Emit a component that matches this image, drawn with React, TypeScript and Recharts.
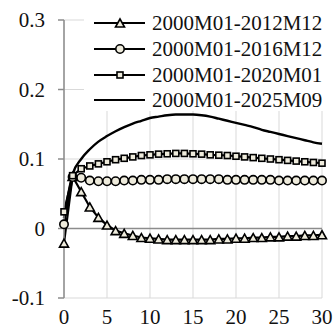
import React from 'react';
import { LineChart, Line, XAxis, YAxis, CartesianGrid, ReferenceLine } from 'recharts';

// Response horizon (months)
const horizons = [
  0, 1, 2, 3, 4, 5, 6, 7, 8, 9, 10, 11, 12, 13, 14, 15,
  16, 17, 18, 19, 20, 21, 22, 23, 24, 25, 26, 27, 28, 29, 30,
];

// Impulse responses by estimation sample
const sample2012 = [
  -0.021, 0.075, 0.053, 0.031, 0.016, 0.005, -0.003, -0.007, -0.010, -0.013, -0.014,
  -0.015, -0.016, -0.016, -0.016, -0.016, -0.016, -0.016, -0.015, -0.015, -0.014,
  -0.014, -0.013, -0.013, -0.012, -0.012, -0.011, -0.011, -0.010, -0.010, -0.009,
];
const sample2016 = [
  0.006, 0.074, 0.073, 0.069, 0.068, 0.068, 0.068, 0.069, 0.069, 0.070, 0.070,
  0.070, 0.071, 0.071, 0.071, 0.071, 0.071, 0.071, 0.071, 0.070, 0.070,
  0.070, 0.070, 0.070, 0.070, 0.069, 0.069, 0.069, 0.069, 0.069, 0.069,
];
const sample2020 = [
  0.024, 0.076, 0.086, 0.090, 0.093, 0.096, 0.099, 0.101, 0.103, 0.105, 0.106,
  0.107, 0.1075, 0.108, 0.108, 0.1075, 0.107, 0.106, 0.1055, 0.105, 0.104,
  0.103, 0.102, 0.101, 0.100, 0.099, 0.098, 0.097, 0.096, 0.095, 0.094,
];
const sample2025 = [
  0.015, 0.078, 0.100, 0.114, 0.125, 0.133, 0.140, 0.146, 0.151, 0.155, 0.159,
  0.161, 0.163, 0.164, 0.164, 0.164, 0.163, 0.161, 0.158, 0.155, 0.152,
  0.149, 0.146, 0.142, 0.139, 0.136, 0.133, 0.130, 0.127, 0.124, 0.122,
];

const seriesNames = [
  '2000M01-2012M12',
  '2000M01-2016M12',
  '2000M01-2020M01',
  '2000M01-2025M09',
];

const xTicks = [0, 5, 10, 15, 20, 25, 30];
const yTicks = [-0.1, 0, 0.1, 0.2, 0.3];

const data = horizons.map((h, i) => ({
  h,
  s2012: sample2012[i],
  s2016: sample2016[i],
  s2020: sample2020[i],
  s2025: sample2025[i],
}));

const FONT = "'Times New Roman', 'Liberation Serif', serif";
const MARKER_FILL = '#eeebdc';
const INK = '#000';

type Shape = 'triangle' | 'circle' | 'square' | 'none';

function Marker({ shape, cx, cy }: { shape: Shape; cx: number; cy: number }) {
  if (shape === 'triangle') {
    const w = 4.5, h = 4;
    const pts = `${cx},${cy - h} ${cx + w},${cy + h} ${cx - w},${cy + h}`;
    return <polygon points={pts} fill={MARKER_FILL} stroke={INK} strokeWidth={1.6} />;
  }
  if (shape === 'circle') {
    return <circle cx={cx} cy={cy} r={4.2} fill={MARKER_FILL} stroke={INK} strokeWidth={1.6} />;
  }
  if (shape === 'square') {
    return <rect x={cx - 3} y={cy - 3} width={6} height={6} fill={MARKER_FILL} stroke={INK} strokeWidth={1.6} />;
  }
  return null;
}

const makeDot = (shape: Shape) => (props: any) => (
  <g key={`${shape}-${props.index}`}>
    <Marker shape={shape} cx={props.cx} cy={props.cy} />
  </g>
);

const shapes: Shape[] = ['triangle', 'circle', 'square', 'none'];

function LegendBox() {
  const rows = [15, 41, 67, 92];
  return (
    <svg width={250} height={103} style={{ display: 'block' }}>
      <rect x={0} y={0} width={250} height={103} fill="#fff" />
      {seriesNames.map((name, i) => (
        <g key={name}>
          <line x1={10} x2={61} y1={rows[i]} y2={rows[i]} stroke={INK} strokeWidth={2.2} />
          <Marker shape={shapes[i]} cx={36} cy={rows[i]} />
          <text
            x={68}
            y={rows[i]}
            dominantBaseline="central"
            fontFamily={FONT}
            fontSize={21}
            fill="#111"
          >
            {name}
          </text>
        </g>
      ))}
    </svg>
  );
}

const tickStyle = { fontFamily: FONT, fontSize: 21, fill: '#111' };

export default function App() {
  return (
    <div style={{ position: 'absolute', left: 0, top: 0, width: 334, height: 330, background: '#fff' }}>
      <LineChart
        width={334}
        height={330}
        data={data}
        margin={{ top: 20, right: 12, bottom: 2, left: 0 }}
      >
        <CartesianGrid stroke="#d9d9d9" strokeWidth={1} />
        <XAxis
          dataKey="h"
          type="number"
          domain={[0, 30]}
          ticks={xTicks}
          height={30}
          axisLine={false}
          tickLine={false}
          tickSize={6}
          tickMargin={5}
          tick={tickStyle}
          interval={0}
        />
        <YAxis
          type="number"
          domain={[-0.1, 0.3]}
          ticks={yTicks}
          width={64}
          axisLine={{ stroke: '#8c8c8c', strokeWidth: 1.5 }}
          tickLine={{ stroke: '#8c8c8c', strokeWidth: 1.5 }}
          tickSize={6}
          tickMargin={13}
          tick={tickStyle}
          interval={0}
        />
        <ReferenceLine y={0} stroke="#8c8c8c" strokeWidth={1.5} />
        <Line
          dataKey="s2012"
          name={seriesNames[0]}
          stroke={INK}
          strokeWidth={2.2}
          dot={makeDot('triangle')}
          activeDot={false}
          isAnimationActive={false}
        />
        <Line
          dataKey="s2016"
          name={seriesNames[1]}
          stroke={INK}
          strokeWidth={2.2}
          dot={makeDot('circle')}
          activeDot={false}
          isAnimationActive={false}
        />
        <Line
          dataKey="s2020"
          name={seriesNames[2]}
          stroke={INK}
          strokeWidth={2.2}
          dot={makeDot('square')}
          activeDot={false}
          isAnimationActive={false}
        />
        <Line
          dataKey="s2025"
          name={seriesNames[3]}
          type="monotone"
          stroke={INK}
          strokeWidth={2.4}
          dot={false}
          activeDot={false}
          isAnimationActive={false}
        />
      </LineChart>
      <div style={{ position: 'absolute', left: 84, top: 8 }}>
        <LegendBox />
      </div>
    </div>
  );
}
